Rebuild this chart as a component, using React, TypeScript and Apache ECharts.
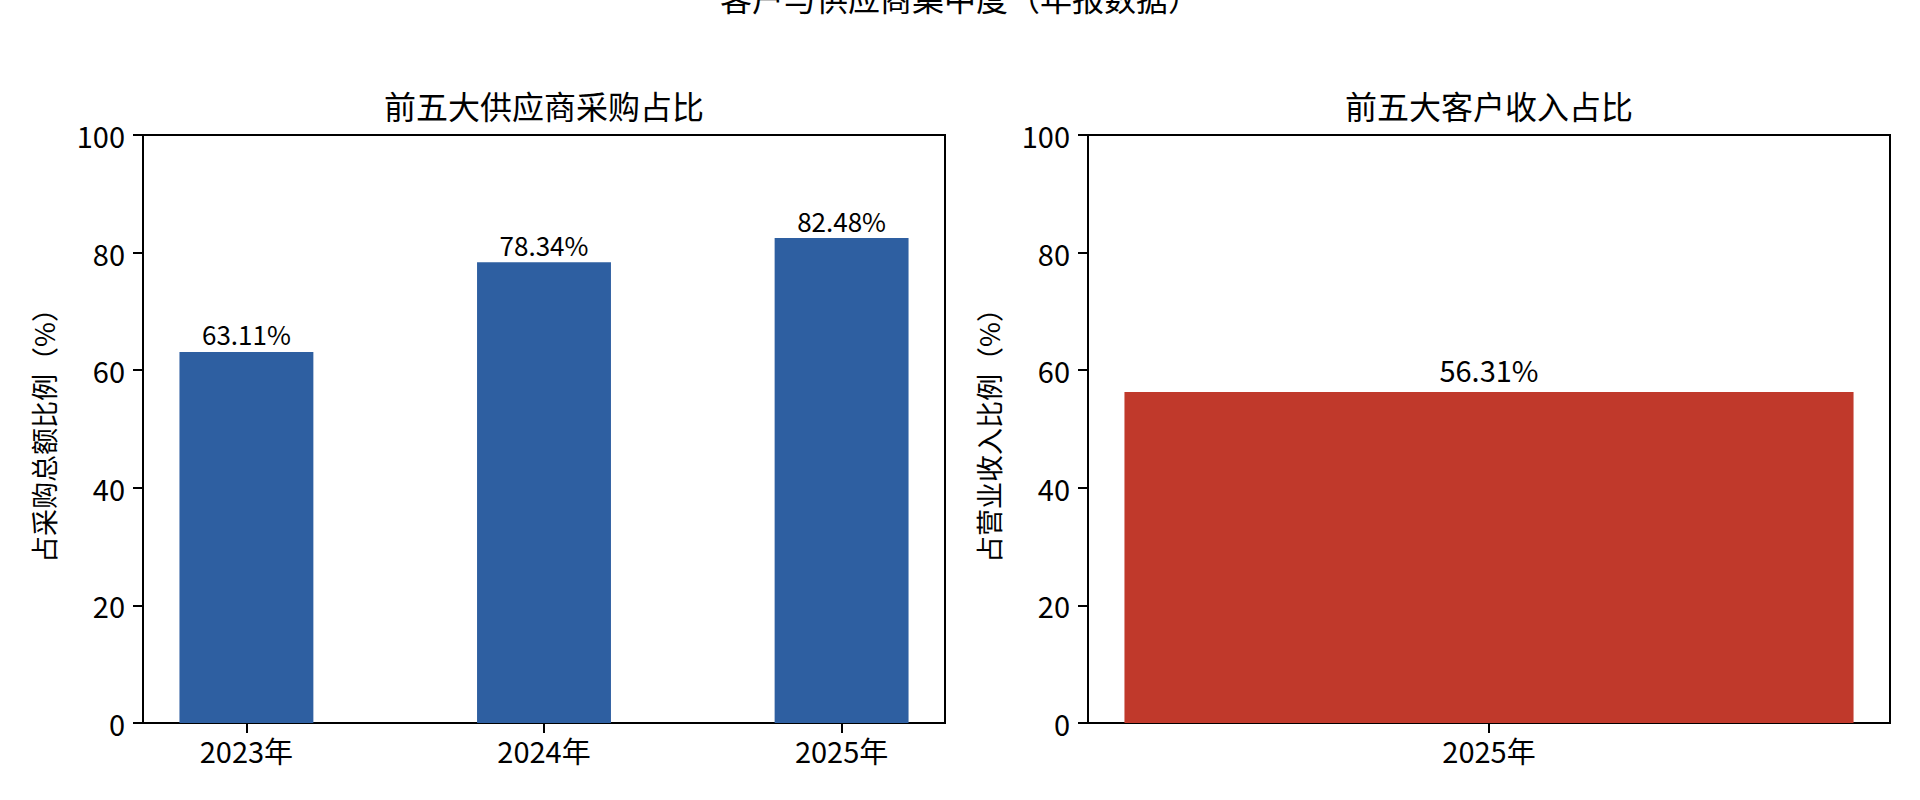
import React, { useEffect, useRef } from 'react';
import * as echarts from 'echarts';

// 前五大供应商采购占比
const supplierYears = ['2023年', '2024年', '2025年'];
const supplierShare = [63.11, 78.34, 82.48];

// 前五大客户收入占比
const customerYears = ['2025年'];
const customerShare = [56.31];

const yMin = 0;
const yMax = 100;
const yStep = 20;

const FONT = '"Noto Sans CJK SC", "Noto Sans", sans-serif';
const BLUE = '#2E5FA1';
const RED = '#C0392B';

// matplotlib-like x limits: bar extent plus 5% margin each side
const xLimits = (n: number, barW: number) => {
  const lo = -barW / 2;
  const hi = n - 1 + barW / 2;
  const m = 0.05 * (hi - lo);
  return [lo - m, hi + m];
};

const App: React.FC = () => {
  const chartRef = useRef<HTMLDivElement>(null);

  useEffect(() => {
    if (!chartRef.current) return;

    const leftGrid = { left: 143, right: 975, top: 135, bottom: 77 };
    const rightGrid = { left: 1088, right: 30, top: 135, bottom: 77 };
    const gridW = 1920 - leftGrid.left - leftGrid.right;

    const supBarW = 0.45;
    const cusBarW = 0.8;
    const [supMin, supMax] = xLimits(supplierYears.length, supBarW);
    const [cusMin, cusMax] = xLimits(customerYears.length, cusBarW);

    const supIdx = supplierYears.map((_, i) => i);
    const cusIdx = customerYears.map((_, i) => i);

    const axisLine = { show: true, onZero: false, lineStyle: { color: '#000', width: 2 } };
    const axisTick = { show: true, length: 10, lineStyle: { color: '#000', width: 2 } };

    const xAxis = (min: number, max: number, idx: number[], names: string[], gi: number) => ({
      type: 'value',
      gridIndex: gi,
      min,
      max,
      axisLine,
      axisTick: { ...axisTick, customValues: idx },
      axisLabel: {
        customValues: idx,
        formatter: (v: number) => names[Math.round(v)] ?? '',
        color: '#000',
        fontFamily: FONT,
        fontSize: 29,
        margin: 12,
      },
      splitLine: { show: false },
    });

    const yAxis = (name: string, gi: number) => ({
      type: 'value',
      gridIndex: gi,
      min: yMin,
      max: yMax,
      interval: yStep,
      name,
      nameLocation: 'middle',
      nameGap: 86,
      nameRotate: 90,
      nameTextStyle: { color: '#000', fontFamily: FONT, fontSize: 27 },
      axisLine,
      axisTick,
      axisLabel: { color: '#000', fontFamily: FONT, fontSize: 29, margin: 18 },
      splitLine: { show: false },
    });

    const titleStyle = { color: '#000', fontFamily: FONT, fontSize: 32, fontWeight: 'normal' };

    const option = {
      animation: false,
      backgroundColor: '#fff',
      title: [
        { text: '客户与供应商集中度（年报数据）', left: 960, top: -19, textAlign: 'center', padding: 0, textStyle: titleStyle },
        { text: '前五大供应商采购占比', left: 544, top: 89, textAlign: 'center', padding: 0, textStyle: titleStyle },
        { text: '前五大客户收入占比', left: 1489, top: 89, textAlign: 'center', padding: 0, textStyle: titleStyle },
      ],
      grid: [
        { ...leftGrid, show: true, borderColor: '#000', borderWidth: 2, backgroundColor: 'transparent', containLabel: false, outerBoundsMode: 'none' },
        { ...rightGrid, show: true, borderColor: '#000', borderWidth: 2, backgroundColor: 'transparent', containLabel: false, outerBoundsMode: 'none' },
      ],
      xAxis: [
        xAxis(supMin, supMax, supIdx, supplierYears, 0),
        xAxis(cusMin, cusMax, cusIdx, customerYears, 1),
      ],
      yAxis: [yAxis('占采购总额比例（%）', 0), yAxis('占营业收入比例（%）', 1)],
      series: [
        {
          type: 'bar',
          xAxisIndex: 0,
          yAxisIndex: 0,
          barWidth: (supBarW * gridW) / (supMax - supMin),
          itemStyle: { color: BLUE },
          label: {
            show: true,
            position: 'top',
            distance: 5,
            color: '#000',
            fontFamily: FONT,
            fontSize: 26,
            formatter: (p: any) => p.value[1].toFixed(2) + '%',
          },
          data: supplierShare.map((v, i) => [i, v]),
        },
        {
          type: 'bar',
          xAxisIndex: 1,
          yAxisIndex: 1,
          barWidth: (cusBarW * gridW) / (cusMax - cusMin),
          itemStyle: { color: RED },
          label: {
            show: true,
            position: 'top',
            distance: 8,
            color: '#000',
            fontFamily: FONT,
            fontSize: 29,
            formatter: (p: any) => p.value[1].toFixed(2) + '%',
          },
          data: customerShare.map((v, i) => [i, v]),
        },
      ],
    };

    const chart = echarts.init(chartRef.current, null, { renderer: 'svg' });
    chart.setOption(option as any);

    return () => {
      chart.dispose();
    };
  }, []);

  return (
    <div
      ref={chartRef}
      style={{ position: 'absolute', left: 0, top: 0, width: '1920px', height: '800px', background: '#fff' }}
    ></div>
  );
};

export default App;
